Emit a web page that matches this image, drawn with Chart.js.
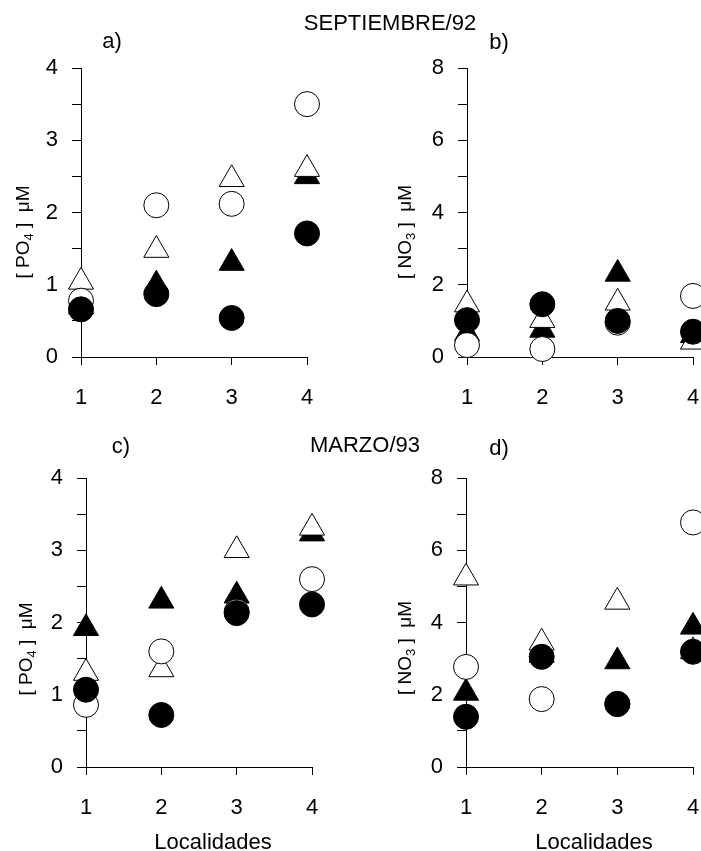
<!DOCTYPE html>
<html>
<head>
<meta charset="utf-8">
<script src="https://cdn.jsdelivr.net/npm/chart.js@4"></script>
<style>
  body { margin: 0; background: #fff; font-family: "Liberation Sans", Arial, sans-serif; }
  #page { position: relative; width: 701px; height: 851px; overflow: hidden; }
  canvas { position: absolute; }
  .txt { position: absolute; font-size: 22px; line-height: 1; color: #000; white-space: nowrap; transform: translate(-50%, -50%); }
  .ylab { position: absolute; font-size: 19px; line-height: 1; color: #000; white-space: nowrap; transform: translate(-50%, -50%) rotate(-90deg); }
  .ylab sub { font-size: 13px; }
</style>
</head>
<body>
<div id="page">
  <canvas id="chartA" width="350" height="420" style="left:0;top:0"></canvas>
  <canvas id="chartB" width="351" height="420" style="left:350px;top:0"></canvas>
  <canvas id="chartC" width="350" height="431" style="left:0;top:420px"></canvas>
  <canvas id="chartD" width="351" height="431" style="left:350px;top:420px"></canvas>

  <div class="txt" style="left:390px;top:23px">SEPTIEMBRE/92</div>
  <div class="txt" style="left:112px;top:41px">a)</div>
  <div class="txt" style="left:499px;top:42px">b)</div>
  <div class="txt" style="left:365px;top:445px">MARZO/93</div>
  <div class="txt" style="left:121px;top:446px">c)</div>
  <div class="txt" style="left:499px;top:448px">d)</div>
  <div class="txt" style="left:213px;top:842px">Localidades</div>
  <div class="txt" style="left:594px;top:842px">Localidades</div>

  <div class="ylab" style="left:24px;top:232px">[ PO<sub>4</sub> ]&nbsp; μM</div>
  <div class="ylab" style="left:406px;top:232px">[ NO<sub>3</sub> ]&nbsp; μM</div>
  <div class="ylab" style="left:27px;top:649px">[ PO<sub>4</sub> ]&nbsp; μM</div>
  <div class="ylab" style="left:406px;top:648px">[ NO<sub>3</sub> ]&nbsp; μM</div>
</div>
<script>
// localidades on the x axis
const localidades = [1, 2, 3, 4];
const po4Ticks = [0, 1, 2, 3, 4];
const no3Ticks = [0, 2, 4, 6, 8];

// septiembre/92 - PO4
const sepPo4FilledCircle = [0.66, 0.87, 0.54, 1.71];
const sepPo4OpenCircle = [0.78, 2.1, 2.12, 3.5];
const sepPo4OpenTriangle = [1.04, 1.48, 2.46, 2.6];
const sepPo4FilledTriangle = [0.7, 1.0, 1.3, 2.5];

// septiembre/92 - NO3
const sepNo3FilledCircle = [1.02, 1.46, 1.0, 0.7];
const sepNo3OpenCircle = [0.33, 0.22, 0.95, 1.69];
const sepNo3OpenTriangle = [1.45, 1.02, 1.5, 0.42];
const sepNo3FilledTriangle = [0.65, 0.75, 2.3, 0.6];

// marzo/93 - PO4
const marPo4FilledCircle = [1.07, 0.72, 2.13, 2.25];
const marPo4OpenCircle = [0.86, 1.6, 2.15, 2.6];
const marPo4OpenTriangle = [1.3, 1.35, 3.0, 3.31];
const marPo4FilledTriangle = [1.92, 2.3, 2.37, 3.23];

// marzo/93 - NO3
const marNo3FilledCircle = [1.39, 3.05, 1.74, 3.19];
const marNo3OpenCircle = [2.77, 1.88, 1.75, 6.77];
const marNo3OpenTriangle = [5.24, 3.44, 4.57, 3.2];
const marNo3FilledTriangle = [2.05, 3.1, 2.92, 3.88];

Chart.defaults.font.family = "'Liberation Sans', Arial, sans-serif";
Chart.defaults.font.size = 22;
Chart.defaults.color = "#000";

const toPoints = (values) => values.map((v, i) => ({ x: localidades[i], y: v }));

const marker = (values, style, filled) => ({
  data: toPoints(values),
  pointStyle: style,
  pointRadius: style === "circle" ? 12.5 : 14.5,
  pointHoverRadius: style === "circle" ? 12.5 : 14.5,
  backgroundColor: filled ? "#000" : "#fff",
  borderColor: "#000",
  borderWidth: 1,
  showLine: false,
  clip: false,
});

function makePanel(id, series, labels, layout) {
  const yMax = labels[labels.length - 1];
  const minor = (labels[1] - labels[0]) / 2;

  new Chart(document.getElementById(id), {
    type: "scatter",
    data: {
      // first dataset is drawn on top
      datasets: [
        marker(series[0], "circle", true),
        marker(series[1], "circle", false),
        marker(series[2], "triangle", false),
        marker(series[3], "triangle", true),
      ],
    },
    options: {
      responsive: false,
      animation: false,
      layout: {
        autoPadding: false,
        padding: { left: 0, top: layout.top, right: layout.right, bottom: 0 },
      },
      scales: {
        x: {
          type: "linear",
          min: 1,
          max: 4,
          afterBuildTicks: (scale) => {
            scale.ticks = localidades.map((v) => ({ value: v }));
          },
          afterFit: (scale) => {
            scale.height = layout.xHeight;
            // labels may hang over the ends, like the original
            scale.paddingLeft = 0;
            scale.paddingRight = 0;
          },
          ticks: { padding: 20, maxRotation: 0 },
          grid: { drawOnChartArea: false, tickLength: 8, color: "#000" },
          border: { color: "#000", width: 1 },
        },
        y: {
          min: 0,
          max: yMax,
          afterBuildTicks: (scale) => {
            const t = [];
            for (let v = 0; v <= yMax + 1e-9; v += minor) t.push({ value: v });
            scale.ticks = t;
          },
          afterFit: (scale) => {
            scale.width = layout.yWidth;
            scale.paddingTop = 0;
            scale.paddingBottom = 0;
          },
          ticks: {
            autoSkip: false,
            padding: 14,
            callback: (value) => (labels.includes(value) ? String(value) : ""),
          },
          grid: { drawOnChartArea: false, tickLength: 9, color: "#000" },
          border: { color: "#000", width: 1 },
        },
      },
      plugins: {
        legend: { display: false },
        tooltip: { enabled: false },
      },
    },
  });
}

makePanel("chartA",
  [sepPo4FilledCircle, sepPo4OpenCircle, sepPo4OpenTriangle, sepPo4FilledTriangle],
  po4Ticks, { top: 68, right: 43, yWidth: 81, xHeight: 63 });

makePanel("chartB",
  [sepNo3FilledCircle, sepNo3OpenCircle, sepNo3OpenTriangle, sepNo3FilledTriangle],
  no3Ticks, { top: 68, right: 8, yWidth: 117, xHeight: 63 });

makePanel("chartC",
  [marPo4FilledCircle, marPo4OpenCircle, marPo4OpenTriangle, marPo4FilledTriangle],
  po4Ticks, { top: 58, right: 38, yWidth: 86, xHeight: 84 });

makePanel("chartD",
  [marNo3FilledCircle, marNo3OpenCircle, marNo3OpenTriangle, marNo3FilledTriangle],
  no3Ticks, { top: 58, right: 8, yWidth: 116, xHeight: 84 });
</script>
</body>
</html>
